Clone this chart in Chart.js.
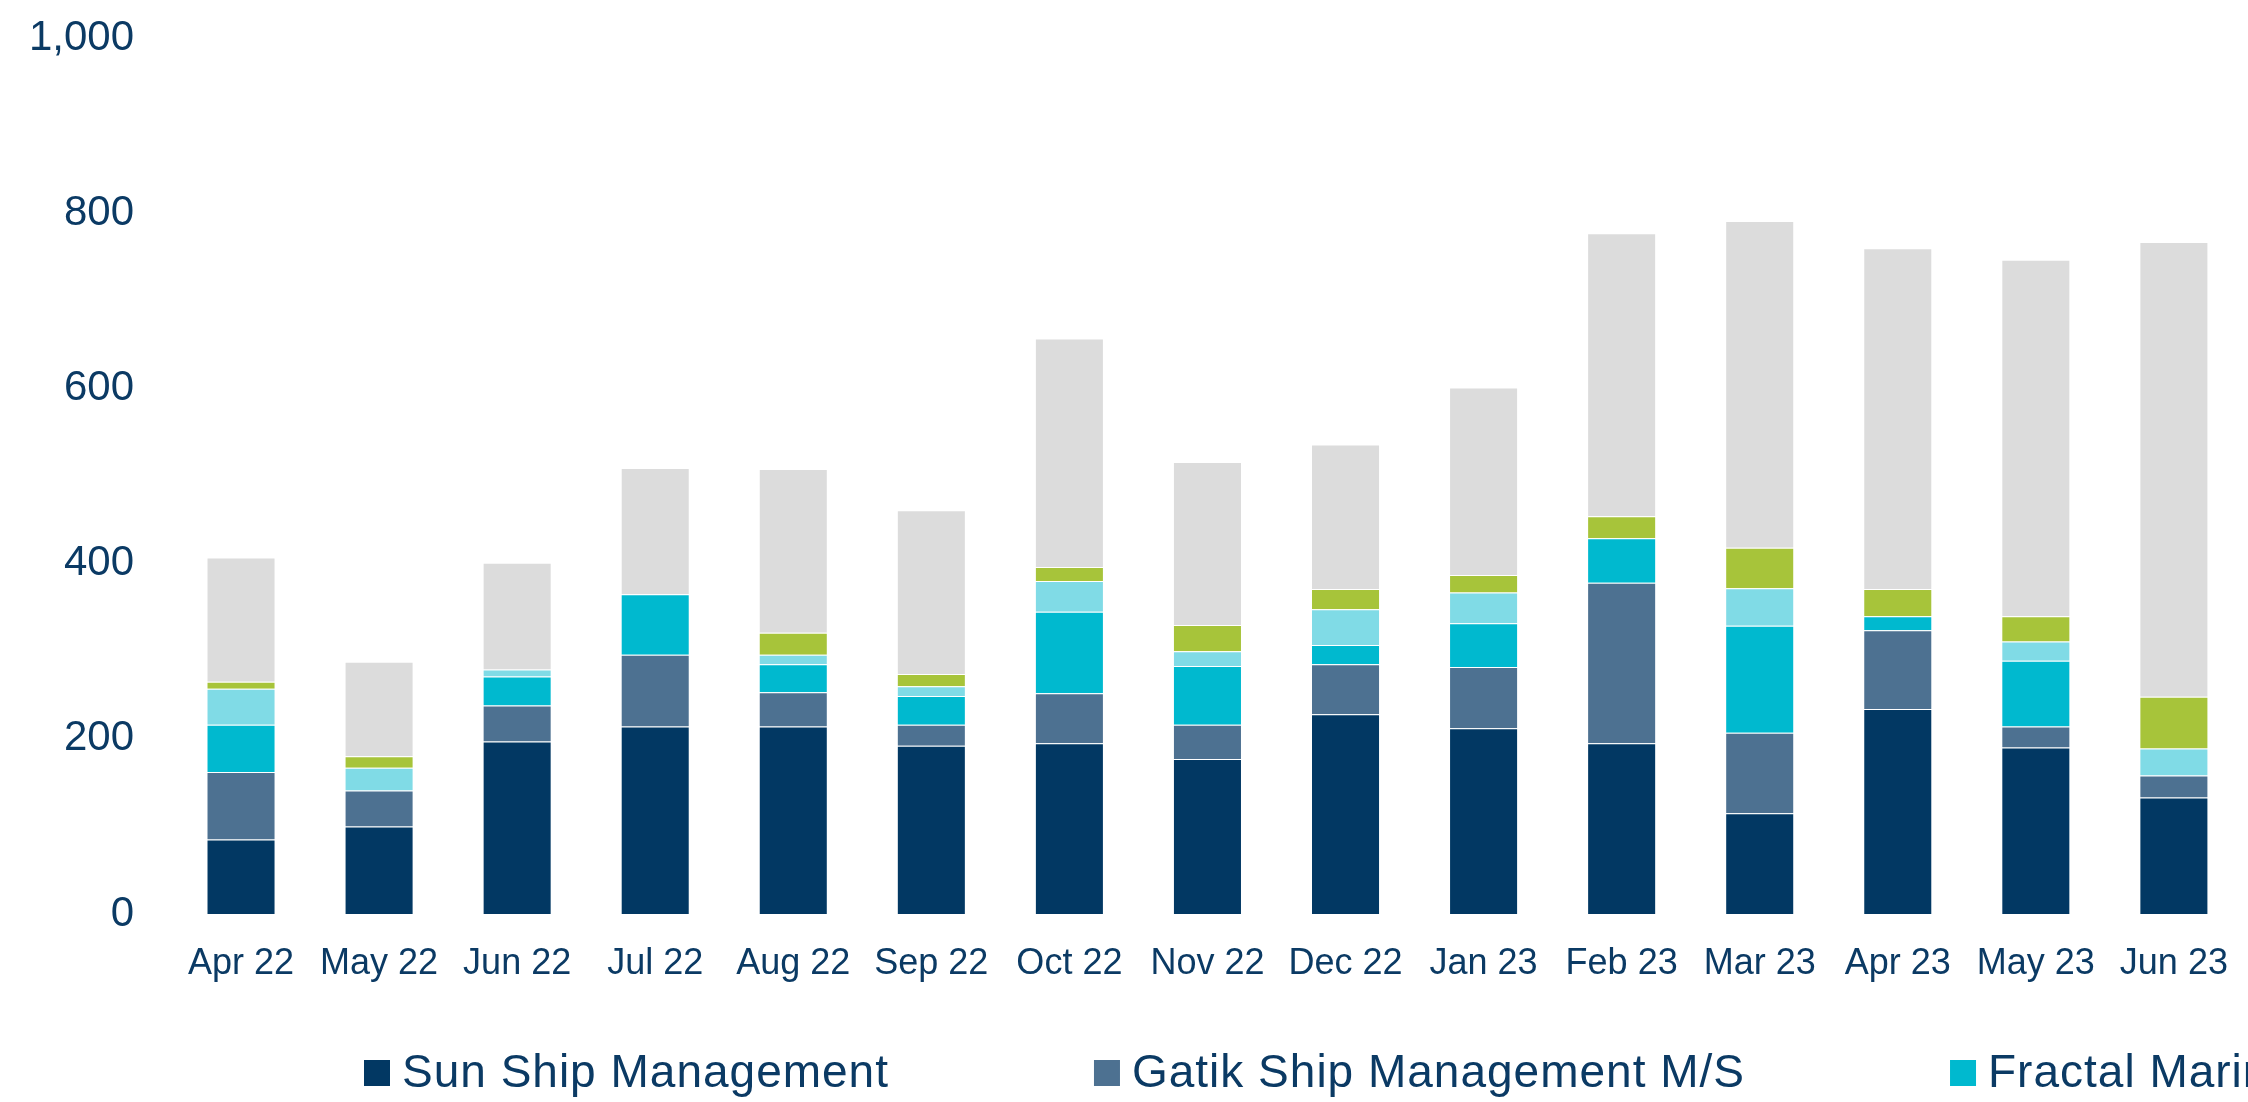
<!DOCTYPE html>
<html>
<head>
<meta charset="utf-8">
<script src="https://cdn.jsdelivr.net/npm/chart.js@4"></script>
<style>
  html, body { margin: 0; padding: 0; background: #fff; overflow: hidden; }
  #chart { display: block; }
</style>
</head>
<body>
<canvas id="chart" width="2256" height="1102"></canvas>
<script>
  // Data
  const months = ['Apr 22', 'May 22', 'Jun 22', 'Jul 22', 'Aug 22', 'Sep 22', 'Oct 22', 'Nov 22',
                  'Dec 22', 'Jan 23', 'Feb 23', 'Mar 23', 'Apr 23', 'May 23', 'Jun 23'];
  const seriesNames = ['Sun Ship Management', 'Gatik Ship Management M/S', 'Fractal Marine',
                       'Series 4', 'Series 5', 'Others'];
  const sunShip   = [85, 100, 197, 214, 214, 192, 195, 177, 228, 212, 195, 115, 234, 190, 133];
  const gatik     = [77, 41, 41, 82, 39, 24, 57, 39, 57, 70, 183, 92, 90, 24, 25];
  const fractal   = [54, 0, 33, 69, 32, 33, 93, 67, 22, 50, 51, 122, 16, 75, 0];
  const series4   = [41, 26, 8, 0, 11, 11, 35, 17, 41, 35, 0, 43, 0, 22, 31];
  const series5   = [8, 13, 0, 0, 25, 14, 16, 30, 23, 20, 25, 46, 31, 29, 59];
  const others    = [142, 108, 122, 144, 187, 187, 261, 186, 165, 214, 323, 373, 389, 407, 519];
  const yTicks    = [0, 200, 400, 600, 800, 1000];

  const colors = ['#023863', '#4d7191', '#00b9cf', '#80dbe6', '#a7c43a', '#dcdcdc'];
  const values = [sunShip, gatik, fractal, series4, series5, others];
  const textColor = '#0b3a64';
  const fontFamily = '"Liberation Sans", Arial, sans-serif';

  const datasets = values.map((data, i) => ({
    label: seriesNames[i],
    data: data,
    backgroundColor: colors[i],
    borderColor: 'rgba(255,255,255,0.25)',
    borderWidth: 1,
    barPercentage: 1,
    categoryPercentage: 0.5
  }));

  // Wide single-row legend under the axis (runs off the right edge like the original)
  const wideLegend = {
    id: 'wideLegend',
    afterDraw(chart) {
      const ctx = chart.ctx;
      const top = chart.scales.x.bottom + 46;
      ctx.save();
      ctx.font = '46px ' + fontFamily;
      ctx.letterSpacing = '1px';
      ctx.textBaseline = 'alphabetic';
      ctx.textAlign = 'left';
      let x = 364;
      chart.data.datasets.forEach(ds => {
        ctx.fillStyle = ds.backgroundColor;
        ctx.fillRect(x, top, 26, 26);
        ctx.fillStyle = textColor;
        ctx.fillText(ds.label, x + 38, top + 27);
        x += 38 + ctx.measureText(ds.label).width + 205;
      });
      ctx.restore();
    }
  };

  const chart = new Chart(document.getElementById('chart'), {
    type: 'bar',
    data: { labels: months, datasets: datasets },
    plugins: [wideLegend],
    options: {
      responsive: false,
      animation: false,
      layout: { padding: { top: 38, right: 2, left: 0, bottom: 88 } },
      plugins: { legend: { display: false }, tooltip: { enabled: false } },
      scales: {
        x: {
          stacked: true,
          grid: { display: false, drawTicks: false },
          border: { display: false },
          ticks: {
            color: textColor, padding: 28, maxRotation: 0, autoSkip: false,
            font: { family: fontFamily, size: 36 }
          },
          afterFit: (axis) => { axis.height = 100; }
        },
        y: {
          stacked: true,
          min: 0, max: 1000,
          afterBuildTicks: (axis) => { axis.ticks = yTicks.map(v => ({ value: v })); },
          // tick marks are hidden; their length only sets the gap between labels and bars
          grid: { display: false, drawTicks: true, tickLength: 33 },
          border: { display: false },
          ticks: {
            color: textColor, padding: 5,
            font: { family: fontFamily, size: 42 },
            callback: (v) => v.toLocaleString('en-US')
          },
          afterFit: (axis) => { axis.width = 172; }
        }
      }
    }
  });
</script>
</body>
</html>
